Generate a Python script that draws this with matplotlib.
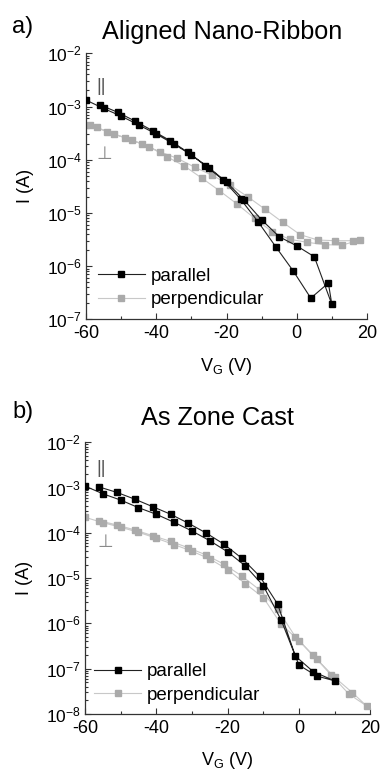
import matplotlib
matplotlib.use("Agg")
import math
import matplotlib.pyplot as plt
from matplotlib.lines import Line2D
from matplotlib.ticker import FixedLocator, LogLocator, NullFormatter, FuncFormatter

# ---------------- data ----------------
# Panel a: Aligned Nano-Ribbon (loop: forward sweep then return sweep)
a_par_v = [-60, -55, -50, -45, -40, -35, -30, -25, -20, -15, -10, -5, 0, 5, 10,
           9, 4, -1, -6, -11, -16, -21, -26, -31, -36, -41, -46, -51, -56]
a_par_i = [1.32e-3, 9.2e-4, 6.6e-4, 4.5e-4, 3.04e-4, 1.97e-4, 1.23e-4, 7.1e-5, 3.8e-5,
           1.75e-5, 7.4e-6, 3.57e-6, 2.4e-6, 1.5e-6, 1.9e-7,
           4.8e-7, 2.5e-7, 8.1e-7, 2.32e-6, 6.8e-6, 1.82e-5, 4.2e-5, 7.7e-5, 1.38e-4,
           2.28e-4, 3.5e-4, 5.3e-4, 7.8e-4, 1.07e-3]
a_perp_v = [-59, -54, -49, -44, -39, -34, -29, -24, -19, -14, -9, -4, 1, 6, 11, 16,
            18, 13, 8, 3, -2, -7, -12, -17, -22, -27, -32, -37, -42, -47, -52, -57]
a_perp_i = [4.49e-4, 3.36e-4, 2.59e-4, 1.97e-4, 1.41e-4, 1.06e-4, 7.2e-5, 5.05e-5, 3.35e-5,
            2.02e-5, 1.17e-5, 6.66e-6, 3.89e-6, 3.09e-6, 3.0e-6, 3.0e-6,
            3.1e-6, 2.49e-6, 2.52e-6, 2.8e-6, 3.19e-6, 4.43e-6, 7.9e-6, 1.47e-5, 2.61e-5,
            4.5e-5, 7.6e-5, 1.14e-4, 1.75e-4, 2.35e-4, 3.04e-4, 4.06e-4]

# Panel b: As Zone Cast
b_par_v = [-60, -55, -50, -45, -40, -35, -30, -25, -20, -15, -10, -5, 0, 5, 10,
           4, -1, -6, -11, -16, -21, -26, -31, -36, -41, -46, -51, -56]
b_par_i = [1.08e-3, 7.3e-4, 5.3e-4, 3.6e-4, 2.57e-4, 1.71e-4, 1.1e-4, 6.7e-5, 3.8e-5,
           1.85e-5, 6.8e-6, 1.19e-6, 1.2e-7, 6.9e-8, 5.4e-8,
           8.6e-8, 1.9e-7, 2.69e-6, 1.1e-5, 2.74e-5, 5.6e-5, 9.9e-5, 1.63e-4, 2.58e-4,
           3.78e-4, 5.53e-4, 7.8e-4, 1.03e-3]
b_perp_v = [-60, -55, -50, -45, -40, -35, -30, -25, -20, -15, -10, -5, 0, 5, 10, 15, 19,
            14, 9, 4, -1, -6, -11, -16, -21, -26, -31, -36, -41, -46, -51, -56]
b_perp_i = [2.21e-4, 1.68e-4, 1.33e-4, 1.03e-4, 7.6e-5, 5.5e-5, 3.94e-5, 2.65e-5, 1.55e-5,
            7.5e-6, 3.73e-6, 9.6e-7, 4.15e-7, 1.62e-7, 6.45e-8, 2.95e-8, 1.5e-8,
            2.76e-8, 7.3e-8, 1.96e-7, 5.06e-7, 2.05e-6, 5.47e-6, 1.11e-5, 2.02e-5, 3.24e-5,
            4.68e-5, 6.5e-5, 8.65e-5, 1.16e-4, 1.49e-4, 1.86e-4]

x_ticks = [-60, -40, -20, 0, 20]
x_minor = [-50, -30, -10, 10]
legend_labels = ["parallel", "perpendicular"]
titles = ["Aligned Nano-Ribbon", "As Zone Cast"]
panel_tags = ["a)", "b)"]

# ---------------- style ----------------
plt.rcParams['font.family'] = ['Liberation Sans', 'DejaVu Sans']
plt.rcParams['mathtext.fontset'] = 'custom'
plt.rcParams['mathtext.rm'] = 'Liberation Sans'
plt.rcParams['mathtext.it'] = 'Liberation Sans'
plt.rcParams['axes.unicode_minus'] = False

BLACK = '#000000'
BLINE = '#222222'
GMARK = '#aaaaaa'
GLINE = '#c8c8c8'

fig = plt.figure(figsize=(3.82, 7.75), dpi=100)
W, H = 382, 775

def axes_px(l, r, t, b):
    return fig.add_axes([l / W, 1 - b / H, (r - l) / W, (b - t) / H])

ax_a = axes_px(86, 367, 53.3, 319.3)
ax_b = axes_px(85, 370.3, 442.3, 714)

def ytick_fmt(v, pos):
    e = int(round(math.log10(v)))
    return r'$\mathregular{10^{%d}}$' % e

def style(ax, ymin, ymax):
    ax.set_yscale('log')
    ax.set_xlim(-60, 20)
    ax.set_ylim(ymin, ymax)
    for s in ['top', 'right']:
        ax.spines[s].set_visible(False)
    for s in ['left', 'bottom']:
        ax.spines[s].set_linewidth(0.9)
        ax.spines[s].set_color('#333333')
    ax.xaxis.set_major_locator(FixedLocator(x_ticks))
    ax.xaxis.set_minor_locator(FixedLocator(x_minor))
    ax.yaxis.set_major_locator(LogLocator(base=10, numticks=12))
    ax.yaxis.set_minor_locator(LogLocator(base=10, subs=range(2, 10), numticks=12))
    ax.yaxis.set_minor_formatter(NullFormatter())
    ax.yaxis.set_major_formatter(FuncFormatter(ytick_fmt))
    ax.tick_params(which='both', direction='in', color='#333333', width=0.8)
    ax.tick_params(which='major', length=4.5, labelsize=13, pad=3)
    ax.tick_params(which='minor', length=2.5)
    ax.tick_params(axis='x', which='major', pad=4)
    ax.tick_params(axis='y', which='major', labelsize=12.5, pad=3)
    ax.set_xticklabels([str(t) for t in x_ticks])
    ax.set_ylabel('I (A)', fontsize=13, labelpad=9)
    ax.set_xlabel(r'V$_\mathregular{G}$ (V)', fontsize=13, labelpad=10)

def plot_panel(ax, pv, pi, qv, qi):
    ax.plot(pv, pi, color=BLINE, lw=0.8, marker='s', ms=4.3,
            mfc=BLACK, mec=BLACK, zorder=3)
    ax.plot(qv, qi, color=GLINE, lw=0.8, marker='s', ms=4.3,
            mfc=GMARK, mec=GMARK, zorder=2)

plot_panel(ax_a, a_par_v, a_par_i, a_perp_v, a_perp_i)
plot_panel(ax_b, b_par_v, b_par_i, b_perp_v, b_perp_i)
style(ax_a, 1e-7, 1e-2)
style(ax_b, 1e-8, 1e-2)

# orientation marks
ax_a.text(-55.7, 2.4e-3, '||', fontsize=13, color='#555555', ha='center', va='center')
ax_a.text(-54.9, 1.3e-4, '\u22a5', fontsize=13, color='#8a8a8a', ha='center', va='center',
          family=['DejaVu Sans'])
ax_b.text(-55.4, 2.6e-3, '||', fontsize=13, color='#555555', ha='center', va='center')
ax_b.text(-54.4, 6.3e-5, '\u22a5', fontsize=13, color='#8a8a8a', ha='center', va='center',
          family=['DejaVu Sans'])

def add_legend(ax, anchor):
    handles = [Line2D([], [], color=BLINE, lw=0.8, marker='s', ms=4.3, mfc=BLACK, mec=BLACK),
               Line2D([], [], color=GLINE, lw=0.8, marker='s', ms=4.3, mfc=GMARK, mec=GMARK)]
    ax.legend(handles, legend_labels, loc='lower left', bbox_to_anchor=anchor,
              frameon=False, fontsize=13.5, handlelength=2.5, handletextpad=0.3,
              labelspacing=0.36, borderpad=0, borderaxespad=0)

add_legend(ax_a, (0.042, 0.041))
add_legend(ax_b, (0.032, 0.037))

fig.text(12 / W, 1 - 27 / H, panel_tags[0], fontsize=17, ha='left', va='center')
fig.text(222.5 / W, 1 - 32 / H, titles[0], fontsize=18.2, ha='center', va='center')
fig.text(12 / W, 1 - 412 / H, panel_tags[1], fontsize=17, ha='left', va='center')
fig.text(217.5 / W, 1 - 418 / H, titles[1], fontsize=18.2, ha='center', va='center')

fig.savefig('out.png', dpi=100)
